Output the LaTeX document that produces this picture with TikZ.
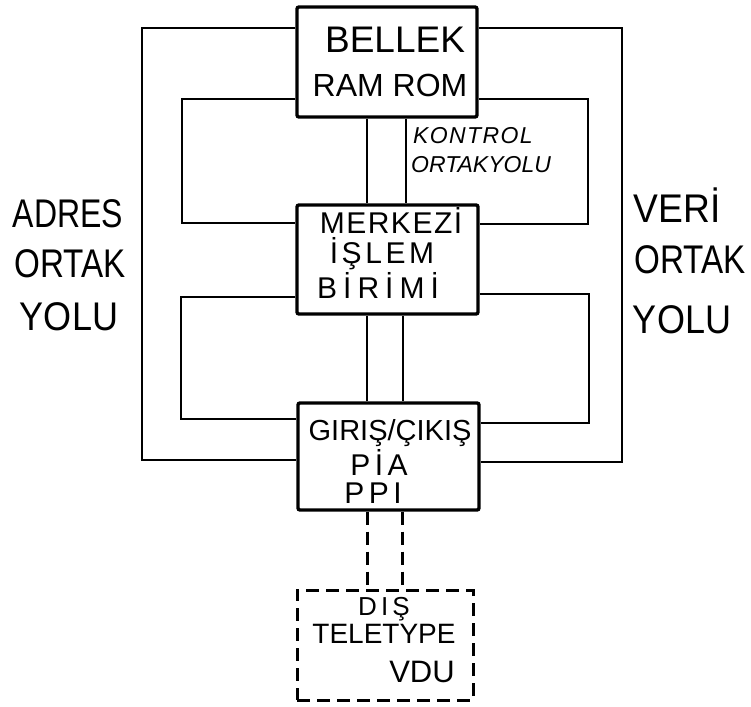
\documentclass[tikz,border=0pt]{standalone}
\usepackage{fontspec}
\setmainfont{Liberation Sans}
\begin{document}
\begin{tikzpicture}[x=1pt,y=-1pt,
  unit/.style={draw,line width=3.4pt,rounded corners=2pt,inner sep=0pt,minimum width=#1},
  bus/.style={line width=2pt},
  ext/.style={line width=3pt,dash pattern=on 13pt off 7pt},
  txt/.style={inner sep=0pt,anchor=base,font=\fontsize{#1}{#1}\selectfont},
  itxt/.style={inner sep=0pt,anchor=base west,font=\itshape\fontsize{#1}{#1}\selectfont}]
\useasboundingbox (0,0) rectangle (751,706);
% units
\node[unit=180pt,minimum height=110pt] (bellek) at (387,62) {};
\node[unit=181pt,minimum height=109pt] (merkezi) at (387.5,259.5) {};
\node[unit=181pt,minimum height=107pt] (giris) at (388.5,456.5) {};
\node[draw,ext,inner sep=0pt,minimum width=176pt,minimum height=110pt] (dis) at (385,645) {};
% outer buses
\draw[bus] (bellek.west |- 0,28) -- (142,28) -- (142,460) -- (giris.west |- 0,460);
\draw[bus] (bellek.east |- 0,28) -- (622,28) -- (622,462) -- (giris.east |- 0,462);
% inner loops
\draw[bus] (bellek.west |- 0,99) -- (182,99) -- (182,223) -- (merkezi.west |- 0,223);
\draw[bus] (bellek.east |- 0,99) -- (588,99) -- (588,224) -- (merkezi.east |- 0,224);
\draw[bus] (merkezi.west |- 0,297) -- (181,297) -- (181,419) -- (giris.west |- 0,419);
\draw[bus] (merkezi.east |- 0,294) -- (589,294) -- (589,423) -- (giris.east |- 0,423);
% control bus
\draw[bus] (bellek.south -| 367,0) -- (merkezi.north -| 367,0);
\draw[bus] (bellek.south -| 406,0) -- (merkezi.north -| 406,0);
\draw[bus] (merkezi.south -| 367,0) -- (giris.north -| 367,0);
\draw[bus] (merkezi.south -| 403,0) -- (giris.north -| 403,0);
% external
\draw[ext] (giris.south -| 367,0) -- (dis.north -| 367,0);
\draw[ext] (giris.south -| 402,0) -- (dis.north -| 402,0);
% texts
\node[txt=37] (t1) at (395,53) {BELLEK};
\node[txt=32] (t2) at (390,97) {RAM ROM};
\node[itxt=23] (t3) at (413,143) {\addfontfeature{LetterSpace=6}KONTROL};
\node[itxt=23] (t4) at (411,172) {ORTAKYOLU};
\node[txt=30] (t5) at (391,233) {\addfontfeature{LetterSpace=5}MERKEZİ};
\node[txt=30] (t6) at (382,263) {\addfontfeature{LetterSpace=12}İŞLEM};
\node[txt=30] (t7) at (378,298) {\addfontfeature{LetterSpace=20}BİRİMİ};
\node[txt=29] (t8) at (390,440) {GIRIŞ/ÇIKIŞ};
\node[txt=30] (t9) at (379,475) {\addfontfeature{LetterSpace=15}PİA};
\node[txt=30] (t10) at (373,503) {\addfontfeature{LetterSpace=15}PPI};
\node[txt=26] (t11) at (384,615) {\addfontfeature{LetterSpace=16}DIŞ};
\node[txt=28] (t12) at (384,643) {TELETYPE};
\node[txt=31] (t13) at (422,682) {VDU};
\node[txt=40] (t14) at (68,227) {\addfontfeature{FakeStretch=0.8}ADRES};
\node[txt=40] (t15) at (70,277) {\addfontfeature{FakeStretch=0.83}ORTAK};
\node[txt=40] (t16) at (69,330) {\addfontfeature{FakeStretch=0.9}YOLU};
\node[txt=40] (t17) at (677,222) {\addfontfeature{FakeStretch=0.93}VERİ};
\node[txt=40] (t18) at (690,273) {\addfontfeature{FakeStretch=0.83}ORTAK};
\node[txt=40] (t19) at (682,333) {\addfontfeature{FakeStretch=0.9}YOLU};
\end{tikzpicture}
\end{document}
